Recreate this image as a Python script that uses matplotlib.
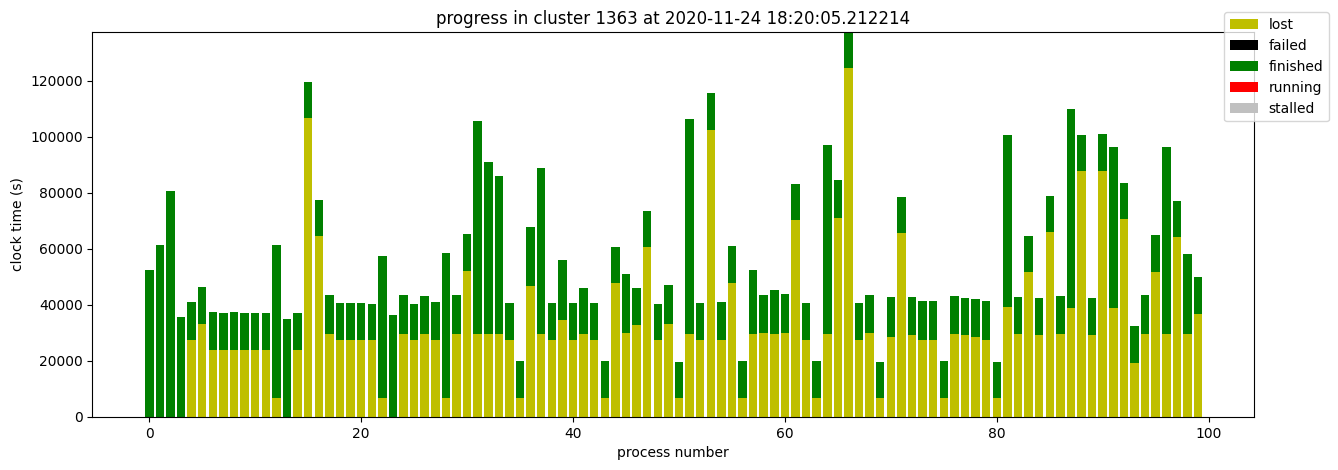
import numpy as np
import matplotlib
matplotlib.use("Agg")
import matplotlib.pyplot as plt

# totals (top of stacked bar) and lost portion, in seconds
totals = [52500, 61400, 80700, 35700, 41100, 46400, 37500, 37100, 37500, 37100,
          37100, 37100, 61400, 35000, 37100, 119600, 77500, 43600, 40700, 40700,
          40700, 40400, 57500, 36400, 43600, 40400, 43200, 41100, 58600, 43600,
          65400, 105700, 91100, 86100, 40700, 20000, 67900, 88900, 40700, 56100,
          40700, 46100, 40700, 20000, 60700, 51100, 46100, 73600, 40400, 47100,
          19600, 106400, 40700, 115700, 41100, 61100, 20000, 52500, 43600, 45400,
          43900, 83200, 40700, 20000, 97100, 84600, 137400, 40700, 43600, 19600,
          42900, 78600, 42900, 41400, 41400, 20000, 43200, 42500, 42100, 41400,
          19600, 100700, 42900, 64600, 42500, 78900, 43200, 110000, 100700, 42500,
          101100, 96400, 83600, 32500, 43600, 65000, 96400, 77100, 58200, 50000]
lost = [0, 0, 0, 0, 27500, 33200, 23900, 23900, 23900, 23900,
        23900, 23900, 6800, 0, 23900, 106800, 64600, 29600, 27500, 27500,
        27500, 27500, 6800, 0, 29600, 27500, 29600, 27500, 6800, 29600,
        52100, 29600, 29600, 29600, 27500, 6800, 46800, 29600, 27500, 34600,
        27500, 29600, 27500, 6800, 47900, 30000, 32900, 60700, 27500, 33200,
        6800, 29600, 27500, 102500, 27500, 47900, 6800, 29600, 30000, 29600,
        30000, 70400, 27500, 6800, 29600, 71100, 124600, 27500, 30000, 6800,
        28600, 65700, 29300, 27500, 27500, 6800, 29600, 29300, 28600, 27500,
        6800, 39300, 29600, 51800, 29300, 66100, 29600, 38900, 87900, 29300,
        87900, 38900, 70700, 19300, 29600, 51800, 29600, 64300, 29600, 36800]

lost = np.array(lost, dtype=float)
finished = np.array(totals, dtype=float) - lost
failed = np.zeros(len(lost))
running = np.zeros(len(lost))
stalled = np.zeros(len(lost))
x = np.arange(len(lost))

fig = plt.figure(figsize=(13.38, 4.70), dpi=100)
ax = fig.add_axes([92.3/1338, 1 - 417/470, (1254 - 92.3)/1338, (417 - 32)/470])

bottom = np.zeros(len(lost))
series = [("lost", lost, "y"), ("failed", failed, "k"), ("finished", finished, "g"),
          ("running", running, "r"), ("stalled", stalled, "silver")]
for name, vals, col in series:
    ax.bar(x, vals, bottom=bottom, color=col, label=name)
    bottom = bottom + vals

ax.set_ylim(0, bottom.max())
ax.set_xlim(-5.38, 104.28)
ax.set_title("progress in cluster 1363 at 2020-11-24 18:20:05.212214")
ax.set_xlabel("process number")
ax.set_ylabel("clock time (s)")
fig.legend(loc="upper right", bbox_to_anchor=(1 - 2/1338, 1 - 5.5/470))
fig.savefig("out.png", dpi=100)
